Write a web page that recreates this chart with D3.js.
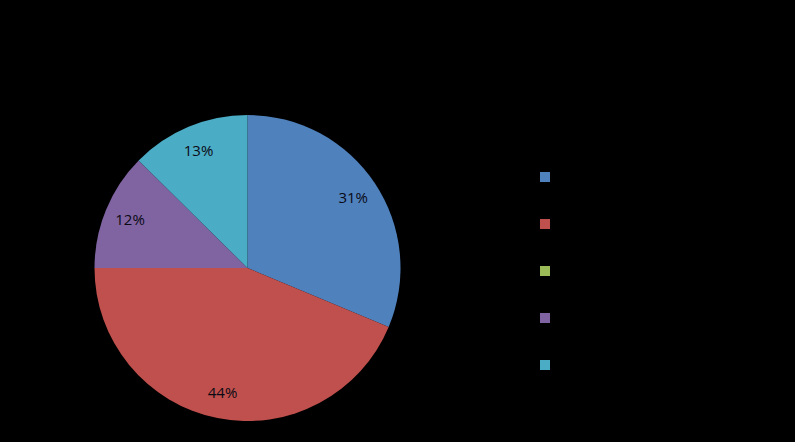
<!DOCTYPE html>
<html><head><meta charset="utf-8">
<script src="https://cdn.jsdelivr.net/npm/d3@7"></script>
<style>html,body{margin:0;padding:0;background:#000;}</style>
</head><body>
<svg id="c" width="795" height="442"></svg>
<script>
const categories = ["Category 1", "Category 2", "Category 3", "Category 4", "Category 5"];
const values = [31.3, 43.7, 0, 12.4, 12.6];
const colors = ["#4F81BD", "#C0504D", "#9BBB59", "#8064A2", "#4BACC6"];

const svg = d3.select("#c");
svg.append("rect").attr("width", 795).attr("height", 442).attr("fill", "#000");

const cx = 247.5, cy = 268, R = 153;
const data = categories.map((c, i) => ({cat: c, value: values[i], color: colors[i]}));
const pie = d3.pie().value(d => d.value).sort(null);
const arcs = pie(data);
const arc = d3.arc().innerRadius(0).outerRadius(R);
const labelArc = d3.arc().innerRadius(127).outerRadius(127);
const total = d3.sum(values);

const g = svg.append("g").attr("transform", `translate(${cx},${cy})`);
g.selectAll("path").data(arcs.filter(a => a.data.value > 0)).join("path")
  .attr("d", arc).attr("fill", d => d.data.color);
g.selectAll("text").data(arcs.filter(a => a.data.value > 0)).join("text")
  .attr("transform", d => `translate(${labelArc.centroid(d)})`)
  .attr("text-anchor", "middle").attr("dy", "0.35em")
  .attr("font-family", "Open Sans, Liberation Sans, sans-serif").attr("font-size", 15)
  .attr("fill", "#0a0a14")
  .text(d => Math.round(d.data.value / total * 100) + "%");

const ly = d3.scalePoint().domain(categories).range([177, 365]);
const lg = svg.append("g");
const items = lg.selectAll("g").data(data).join("g")
  .attr("transform", d => `translate(545,${ly(d.cat)})`);
items.append("rect").attr("x", -5).attr("y", -5).attr("width", 10).attr("height", 10)
  .attr("fill", d => d.color);
items.append("text").attr("x", 12).attr("dy", "0.35em")
  .attr("font-family", "Open Sans, Liberation Sans, sans-serif").attr("font-size", 14)
  .attr("fill", "#000").text(d => d.cat);
</script>
</body></html>
